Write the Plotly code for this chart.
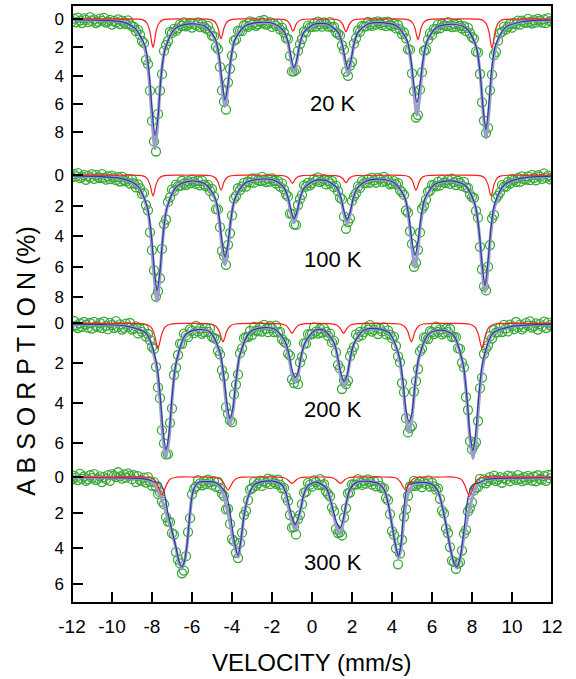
import plotly.graph_objects as go

# Mossbauer spectra of the same sample at four temperatures
# velocity channels (mm/s) shared by all four measured spectra
VELOCITY = [
    -12.0, -11.9, -11.8, -11.7, -11.6, -11.5, -11.4, -11.3, -11.2, -11.1,
    -11.0, -10.9, -10.8, -10.7, -10.6, -10.5, -10.4, -10.3, -10.2, -10.1,
    -10.0, -9.9, -9.8, -9.7, -9.6, -9.5, -9.4, -9.3, -9.2, -9.1,
    -9.0, -8.9, -8.8, -8.7, -8.6, -8.5, -8.4, -8.3, -8.2, -8.1,
    -8.0, -7.9, -7.8, -7.7, -7.6, -7.5, -7.4, -7.3, -7.2, -7.1,
    -7.0, -6.9, -6.8, -6.7, -6.6, -6.5, -6.4, -6.3, -6.2, -6.1,
    -6.0, -5.9, -5.8, -5.7, -5.6, -5.5, -5.4, -5.3, -5.2, -5.1,
    -5.0, -4.9, -4.8, -4.7, -4.6, -4.5, -4.4, -4.3, -4.2, -4.1,
    -4.0, -3.9, -3.8, -3.7, -3.6, -3.5, -3.4, -3.3, -3.2, -3.1,
    -3.0, -2.9, -2.8, -2.7, -2.6, -2.5, -2.4, -2.3, -2.2, -2.1,
    -2.0, -1.9, -1.8, -1.7, -1.6, -1.5, -1.4, -1.3, -1.2, -1.1,
    -1.0, -0.9, -0.8, -0.7, -0.6, -0.5, -0.4, -0.3, -0.2, -0.1,
    0.0, 0.1, 0.2, 0.3, 0.4, 0.5, 0.6, 0.7, 0.8, 0.9,
    1.0, 1.1, 1.2, 1.3, 1.4, 1.5, 1.6, 1.7, 1.8, 1.9,
    2.0, 2.1, 2.2, 2.3, 2.4, 2.5, 2.6, 2.7, 2.8, 2.9,
    3.0, 3.1, 3.2, 3.3, 3.4, 3.5, 3.6, 3.7, 3.8, 3.9,
    4.0, 4.1, 4.2, 4.3, 4.4, 4.5, 4.6, 4.7, 4.8, 4.9,
    5.0, 5.1, 5.2, 5.3, 5.4, 5.5, 5.6, 5.7, 5.8, 5.9,
    6.0, 6.1, 6.2, 6.3, 6.4, 6.5, 6.6, 6.7, 6.8, 6.9,
    7.0, 7.1, 7.2, 7.3, 7.4, 7.5, 7.6, 7.7, 7.8, 7.9,
    8.0, 8.1, 8.2, 8.3, 8.4, 8.5, 8.6, 8.7, 8.8, 8.9,
    9.0, 9.1, 9.2, 9.3, 9.4, 9.5, 9.6, 9.7, 9.8, 9.9,
    10.0, 10.1, 10.2, 10.3, 10.4, 10.5, 10.6, 10.7, 10.8, 10.9,
    11.0, 11.1, 11.2, 11.3, 11.4, 11.5, 11.6, 11.7, 11.8, 11.9,
    12.0,
]

# measured absorption (%)
ABS_20K = [
    0.17, -0.03, 0.23, -0.10, 0.11, 0.28, -0.04, 0.06, 0.22, -0.13,
    0.15, 0.03, 0.28, 0.19, -0.03, 0.13, -0.08, 0.25, 0.18, 0.06,
    0.39, 0.13, 0.25, 0.03, 0.35, 0.11, 0.26, 0.35, 0.10, 0.36,
    0.52, 0.56, 0.86, 0.77, 1.12, 1.55, 1.70, 2.88, 3.18, 5.06,
    7.19, 8.64, 9.35, 6.70, 5.05, 3.89, 2.25, 1.83, 1.55, 0.90,
    0.98, 0.70, 0.84, 0.66, 0.38, 0.48, 0.23, 0.52, 0.43, 0.28,
    0.60, 0.33, 0.45, 0.24, 0.57, 0.35, 0.53, 0.67, 0.49, 0.86,
    1.17, 1.22, 1.95, 2.12, 3.38, 5.04, 5.83, 6.39, 4.47, 3.51,
    2.59, 1.53, 1.43, 0.82, 0.83, 0.86, 0.44, 0.46, 0.55, 0.16,
    0.41, 0.25, 0.48, 0.37, 0.13, 0.28, 0.07, 0.40, 0.34, 0.22,
    0.56, 0.32, 0.48, 0.32, 0.73, 0.61, 0.95, 1.34, 1.40, 2.60,
    3.70, 3.69, 3.59, 2.25, 1.77, 1.41, 0.88, 0.94, 0.46, 0.57,
    0.55, 0.30, 0.53, 0.18, 0.37, 0.54, 0.23, 0.35, 0.53, 0.22,
    0.58, 0.55, 0.94, 1.05, 1.16, 1.85, 2.18, 3.71, 4.01, 3.28,
    3.03, 1.74, 1.36, 0.81, 0.90, 0.49, 0.52, 0.52, 0.20, 0.39,
    0.49, 0.24, 0.40, 0.16, 0.29, 0.43, 0.22, 0.50, 0.18, 0.42,
    0.50, 0.34, 0.66, 0.42, 0.73, 1.06, 0.95, 1.36, 2.14, 2.16,
    3.83, 5.09, 6.95, 6.78, 4.99, 3.75, 2.24, 2.15, 1.46, 1.01,
    1.12, 0.70, 0.71, 0.40, 0.65, 0.35, 0.45, 0.50, 0.22, 0.45,
    0.57, 0.35, 0.54, 0.32, 0.48, 0.67, 0.51, 0.86, 0.63, 1.00,
    1.27, 1.38, 2.30, 2.36, 3.88, 5.88, 7.18, 8.05, 7.68, 5.03,
    3.93, 2.55, 2.32, 1.53, 0.99, 0.90, 0.53, 0.73, 0.55, 0.35,
    0.61, 0.29, 0.37, 0.11, 0.39, 0.11, 0.22, 0.27, -0.01, 0.21,
    0.32, 0.08, 0.24, -0.01, 0.11, 0.25, 0.02, 0.29, -0.06, 0.15,
    0.18,
]
ABS_100K = [
    0.14, -0.08, 0.07, -0.14, 0.19, 0.11, -0.02, 0.30, 0.04, 0.15,
    -0.08, 0.24, -0.02, 0.12, 0.19, -0.07, 0.16, 0.29, 0.07, 0.25,
    0.02, 0.16, 0.31, 0.12, 0.41, 0.09, 0.33, 0.40, 0.24, 0.54,
    0.27, 0.54, 0.80, 0.60, 0.85, 1.22, 1.16, 1.95, 2.30, 3.74,
    4.91, 6.23, 7.95, 7.60, 6.75, 4.83, 3.20, 2.90, 1.75, 1.45,
    0.93, 1.02, 0.61, 0.71, 0.69, 0.36, 0.54, 0.64, 0.38, 0.53,
    0.28, 0.42, 0.56, 0.36, 0.66, 0.35, 0.62, 0.73, 0.63, 1.03,
    0.90, 1.40, 2.22, 2.24, 3.40, 4.95, 5.29, 5.87, 4.56, 3.80,
    2.63, 1.53, 1.36, 0.85, 0.97, 0.74, 0.50, 0.74, 0.41, 0.48,
    0.21, 0.49, 0.21, 0.32, 0.38, 0.10, 0.33, 0.45, 0.23, 0.42,
    0.20, 0.36, 0.54, 0.38, 0.74, 0.53, 0.93, 1.25, 1.39, 2.51,
    2.51, 3.22, 3.25, 1.95, 1.55, 1.29, 0.66, 0.75, 0.50, 0.66,
    0.51, 0.25, 0.37, 0.14, 0.45, 0.37, 0.26, 0.60, 0.36, 0.53,
    0.37, 0.78, 0.68, 1.04, 1.47, 1.57, 2.70, 3.51, 3.07, 2.83,
    1.68, 1.39, 1.18, 0.73, 0.83, 0.39, 0.52, 0.50, 0.26, 0.49,
    0.15, 0.33, 0.49, 0.17, 0.27, 0.43, 0.10, 0.40, 0.30, 0.59,
    0.53, 0.38, 0.60, 0.51, 0.98, 1.11, 1.29, 2.31, 2.45, 3.67,
    4.50, 6.00, 5.73, 4.89, 3.75, 2.21, 2.00, 1.60, 1.07, 1.02,
    0.63, 0.66, 0.72, 0.44, 0.67, 0.30, 0.48, 0.50, 0.30, 0.56,
    0.23, 0.45, 0.64, 0.36, 0.50, 0.70, 0.43, 0.81, 0.82, 1.25,
    1.43, 1.48, 2.34, 2.78, 4.69, 6.16, 7.28, 7.55, 5.99, 4.57,
    2.84, 2.60, 1.51, 1.33, 1.12, 0.65, 0.74, 0.75, 0.43, 0.54,
    0.24, 0.33, 0.43, 0.18, 0.43, 0.07, 0.26, 0.28, 0.07, 0.32,
    -0.02, 0.17, 0.33, 0.00, 0.09, 0.24, -0.12, 0.16, 0.02, 0.27,
    0.16,
]
ABS_200K = [
    0.15, -0.12, 0.11, 0.23, 0.00, 0.17, -0.07, 0.06, 0.21, -0.02,
    0.26, -0.08, 0.14, 0.18, -0.02, 0.24, -0.09, 0.12, 0.29, -0.03,
    0.08, 0.23, -0.11, 0.18, 0.05, 0.31, 0.22, 0.01, 0.17, -0.02,
    0.31, 0.26, 0.15, 0.50, 0.27, 0.42, 0.27, 0.66, 0.53, 0.84,
    1.17, 1.27, 2.17, 3.20, 3.74, 5.34, 6.00, 6.55, 6.54, 4.97,
    4.25, 2.58, 2.21, 1.58, 1.01, 1.02, 0.51, 0.60, 0.69, 0.30,
    0.37, 0.49, 0.12, 0.40, 0.26, 0.52, 0.43, 0.23, 0.42, 0.26,
    0.67, 0.72, 0.78, 1.37, 1.55, 2.34, 2.63, 4.19, 4.52, 4.85,
    4.94, 3.55, 3.06, 2.55, 1.49, 1.25, 0.74, 0.67, 0.68, 0.38,
    0.58, 0.18, 0.36, 0.38, 0.16, 0.41, 0.07, 0.27, 0.44, 0.13,
    0.25, 0.43, 0.11, 0.45, 0.42, 0.79, 0.91, 0.99, 1.51, 1.61,
    2.80, 2.98, 2.73, 3.04, 1.95, 1.67, 0.99, 1.01, 0.54, 0.56,
    0.53, 0.20, 0.41, 0.51, 0.27, 0.46, 0.24, 0.41, 0.62, 0.51,
    0.95, 0.87, 1.45, 2.07, 2.25, 3.28, 2.84, 3.04, 2.86, 1.64,
    1.39, 1.17, 0.55, 0.67, 0.42, 0.59, 0.44, 0.19, 0.31, 0.09,
    0.41, 0.32, 0.20, 0.53, 0.26, 0.40, 0.20, 0.55, 0.35, 0.56,
    0.74, 0.66, 1.13, 1.65, 1.95, 2.98, 3.44, 4.74, 5.45, 5.22,
    5.12, 3.41, 2.89, 2.28, 1.40, 1.26, 0.70, 0.72, 0.78, 0.39,
    0.43, 0.53, 0.16, 0.43, 0.30, 0.55, 0.46, 0.26, 0.44, 0.28,
    0.68, 0.67, 0.69, 1.24, 1.27, 1.96, 2.20, 3.68, 4.33, 5.89,
    6.30, 6.10, 5.94, 4.88, 3.24, 2.71, 1.53, 1.26, 1.10, 0.64,
    0.76, 0.34, 0.46, 0.44, 0.20, 0.43, 0.07, 0.25, 0.40, 0.06,
    0.15, 0.29, -0.07, 0.20, 0.06, 0.30, 0.20, -0.03, 0.11, -0.10,
    0.21, 0.13, 0.00, 0.31, 0.04, 0.15, -0.09, 0.23, -0.04, 0.09,
    0.16,
]
ABS_300K = [
    0.14, -0.08, 0.02, 0.17, -0.18, 0.10, -0.03, 0.22, 0.13, -0.10,
    0.06, -0.16, 0.17, 0.09, -0.04, 0.28, 0.01, 0.12, -0.11, 0.21,
    -0.16, -0.08, 0.00, -0.27, -0.04, 0.09, -0.15, 0.03, -0.21, -0.08,
    0.12, -0.10, 0.28, -0.05, 0.17, 0.22, 0.03, 0.31, 0.01, 0.25,
    0.49, 0.28, 0.55, 0.95, 0.85, 1.38, 1.52, 2.25, 2.50, 2.52,
    3.15, 3.23, 4.21, 4.64, 4.85, 5.40, 5.25, 4.44, 3.09, 2.31,
    0.97, 0.66, 0.53, 0.17, 0.36, 0.46, 0.22, 0.39, 0.15, 0.29,
    0.44, 0.24, 0.55, 0.27, 0.63, 0.92, 1.07, 1.82, 1.78, 2.63,
    3.48, 3.60, 4.25, 4.55, 3.70, 3.12, 2.13, 1.90, 1.30, 0.70,
    0.63, 0.27, 0.50, 0.36, 0.20, 0.50, 0.22, 0.32, 0.09, 0.40,
    0.15, 0.29, 0.38, 0.15, 0.43, 0.64, 0.61, 1.13, 1.34, 2.13,
    2.84, 2.81, 3.22, 2.36, 2.12, 1.52, 0.87, 0.83, 0.33, 0.43,
    0.54, 0.19, 0.28, 0.44, 0.12, 0.46, 0.40, 0.80, 0.95, 1.08,
    1.70, 1.93, 2.91, 3.14, 3.10, 3.28, 2.27, 1.74, 0.91, 0.87,
    0.41, 0.42, 0.43, 0.12, 0.33, 0.44, 0.20, 0.37, 0.13, 0.27,
    0.42, 0.22, 0.52, 0.22, 0.50, 0.62, 0.62, 1.18, 1.30, 2.08,
    3.03, 3.25, 4.00, 4.90, 4.30, 3.52, 2.23, 1.80, 1.05, 0.53,
    0.51, 0.22, 0.49, 0.39, 0.25, 0.57, 0.29, 0.40, 0.19, 0.53,
    0.32, 0.52, 0.71, 0.64, 1.22, 1.89, 2.04, 2.90, 3.14, 3.93,
    4.69, 4.76, 5.15, 4.86, 4.77, 4.13, 3.18, 2.97, 1.93, 1.73,
    1.42, 0.75, 0.60, 0.57, 0.10, 0.30, 0.13, 0.35, 0.23, 0.00,
    0.14, -0.08, 0.23, 0.14, 0.01, 0.32, 0.05, 0.15, -0.08, 0.23,
    -0.04, 0.09, 0.16, -0.11, 0.11, 0.23, 0.00, 0.17, -0.07, 0.06,
    0.20, -0.03, 0.24, -0.10, 0.11, 0.15, -0.05, 0.21, -0.12, 0.08,
    -0.15,
]

# fitted curves: total fit and main sextet, read at these velocities
FIT_V_20K = [-12.0, -10.5, -9.5, -8.85, -8.35, -8.15, -8.0, -7.85, -7.7, -7.55, -7.35, -6.85, -6.1,
             -5.35, -4.85, -4.65, -4.5, -4.35, -4.2, -4.05, -3.85, -3.35, -2.6, -1.9, -1.4, -1.2,
             -1.05, -0.9, -0.75, -0.6, -0.4, 0.1, 0.45, 0.8, 1.3, 1.5, 1.65, 1.8, 1.95, 2.1, 2.3,
             2.8, 3.5, 4.25, 4.75, 4.95, 5.1, 5.25, 5.4, 5.55, 5.75, 6.25, 7.0, 7.7, 8.2, 8.4,
             8.55, 8.7, 8.85, 9.0, 9.2, 9.7, 10.5, 12.0]
FIT_TOTAL_20K = [0.05, 0.10, 0.20, 0.67, 2.11, 4.12, 7.00, 9.15, 7.00, 4.12, 2.15, 0.69, 0.35,
                 0.52, 1.45, 2.79, 4.72, 6.16, 4.73, 2.80, 1.45, 0.50, 0.25, 0.34, 0.91, 1.72,
                 2.90, 3.77, 2.90, 1.73, 0.94, 0.38, 0.32, 0.38, 0.95, 1.79, 2.99, 3.89, 2.99, 1.78, 0.95,
                 0.36, 0.27, 0.52, 1.58, 3.07, 5.19, 6.78, 5.23, 3.09, 1.61, 0.58, 0.38, 0.65, 1.94, 3.78,
                 6.43, 8.39, 6.42, 3.77, 1.92, 0.59, 0.20, 0.06]
FIT_MAIN_20K = [0.05, 0.10, 0.20, 0.66, 1.90, 3.70, 6.30, 8.20, 6.90, 4.10, 2.15, 0.68, 0.34,
                0.51, 1.35, 2.55, 4.35, 5.70, 4.60, 2.78, 1.45, 0.49, 0.24, 0.33, 0.88, 1.60,
                2.65, 3.45, 2.80, 1.70, 0.93, 0.37, 0.31, 0.37, 0.93, 1.70, 2.75, 3.55, 2.90, 1.75, 0.94,
                0.35, 0.26, 0.51, 1.50, 2.90, 4.70, 5.90, 4.60, 2.90, 1.55, 0.57, 0.37, 0.64, 1.90, 3.70,
                6.20, 7.80, 5.90, 3.30, 1.75, 0.57, 0.19, 0.06]

FIT_V_100K = [-12.0, -10.5, -9.5, -8.75, -8.25, -8.05, -7.9, -7.75, -7.6, -7.45, -7.25, -6.75, -6.05,
              -5.35, -4.85, -4.65, -4.5, -4.35, -4.2, -4.05, -3.85, -3.35, -2.6, -1.9, -1.4, -1.2,
              -1.05, -0.9, -0.75, -0.6, -0.4, 0.1, 0.45, 0.75, 1.25, 1.45, 1.6, 1.75, 1.9, 2.05, 2.25,
              2.75, 3.45, 4.15, 4.65, 4.85, 5.0, 5.15, 5.3, 5.45, 5.65, 6.15, 6.9, 7.65, 8.15, 8.35,
              8.5, 8.65, 8.8, 8.95, 9.15, 9.65, 10.5, 12.0]
FIT_TOTAL_100K = [0.04, 0.09, 0.22, 0.67, 2.10, 4.00, 6.51, 8.25, 6.52, 4.02, 2.14, 0.72, 0.39,
                  0.57, 1.54, 2.87, 4.65, 5.86, 4.66, 2.87, 1.54, 0.53, 0.27, 0.34, 0.85, 1.55,
                  2.48, 3.12, 2.49, 1.55, 0.86, 0.37, 0.31, 0.37, 0.85, 1.57, 2.54, 3.19, 2.57, 1.61, 0.89,
                  0.37, 0.27, 0.53, 1.55, 2.93, 4.78, 6.03, 4.81, 2.99, 1.61, 0.60, 0.38, 0.66, 1.97, 3.72,
                  6.04, 7.64, 6.03, 3.70, 1.95, 0.61, 0.20, 0.06]
FIT_MAIN_100K = [0.04, 0.09, 0.22, 0.66, 2.00, 3.70, 5.90, 7.55, 6.25, 3.95, 2.12, 0.71, 0.38,
                 0.56, 1.45, 2.65, 4.30, 5.35, 4.45, 2.82, 1.52, 0.52, 0.26, 0.33, 0.82, 1.45,
                 2.28, 2.85, 2.38, 1.52, 0.85, 0.36, 0.30, 0.36, 0.83, 1.50, 2.35, 2.92, 2.45, 1.58, 0.88,
                 0.36, 0.26, 0.52, 1.50, 2.78, 4.30, 5.25, 4.30, 2.75, 1.52, 0.58, 0.37, 0.65, 1.92, 3.60,
                 5.75, 7.20, 5.60, 3.40, 1.80, 0.59, 0.19, 0.06]

FIT_V_200K = [-12.0, -10.5, -9.3, -8.3, -7.8, -7.6, -7.45, -7.3, -7.15, -7.0, -6.8, -6.3, -5.7,
              -5.1, -4.6, -4.4, -4.25, -4.1, -3.95, -3.8, -3.6, -3.1, -2.4, -1.85, -1.35, -1.15,
              -1.0, -0.85, -0.7, -0.55, -0.35, 0.15, 0.6, 1.1, 1.3, 1.45, 1.6, 1.75, 1.9, 2.1, 2.6,
              3.2, 3.85, 4.35, 4.55, 4.7, 4.85, 5.0, 5.15, 5.35, 5.85, 6.45, 7.05, 7.55, 7.75, 7.9,
              8.05, 8.2, 8.35, 8.55, 9.05, 10.0, 12.0]
FIT_TOTAL_200K = [0.04, 0.06, 0.13, 0.49, 2.03, 3.82, 5.75, 6.69, 5.76, 3.83, 2.05, 0.55, 0.32,
                  0.44, 1.57, 2.91, 4.35, 5.07, 4.37, 2.92, 1.57, 0.44, 0.22, 0.30, 0.99, 1.72,
                  2.52, 2.92, 2.54, 1.71, 0.99, 0.35, 0.35, 1.00, 1.83, 2.70, 3.14, 2.72, 1.84, 1.02, 0.34,
                  0.27, 0.47, 1.70, 3.15, 4.70, 5.45, 4.70, 3.16, 1.72, 0.52, 0.35, 0.57, 2.08, 3.88, 5.81,
                  6.75, 5.80, 3.86, 2.05, 0.50, 0.15, 0.05]
FIT_MAIN_200K = [0.04, 0.06, 0.13, 0.48, 1.85, 3.50, 5.30, 6.30, 5.50, 3.70, 2.00, 0.54, 0.31,
                 0.43, 1.45, 2.70, 4.00, 4.75, 4.20, 2.85, 1.55, 0.43, 0.21, 0.29, 0.88, 1.55,
                 2.30, 2.70, 2.45, 1.65, 0.97, 0.34, 0.34, 0.97, 1.75, 2.50, 2.90, 2.60, 1.80, 1.00, 0.33,
                 0.26, 0.46, 1.60, 2.90, 4.30, 4.90, 4.45, 3.05, 1.68, 0.51, 0.34, 0.56, 2.00, 3.75, 5.50,
                 6.35, 5.30, 3.50, 1.85, 0.48, 0.15, 0.05]

FIT_V_300K = [-12.0, -10.5, -9.0, -8.3, -8.0, -7.8, -7.6, -7.4, -7.2, -7.0, -6.8, -6.65, -6.5,
              -6.38, -6.25, -6.1, -5.95, -5.7, -5.2, -4.8, -4.5, -4.3, -4.1, -3.9, -3.7, -3.55,
              -3.4, -3.2, -2.9, -2.4, -1.8, -1.5, -1.3, -1.1, -0.85, -0.6, -0.4, -0.2, 0.2, 0.7,
              0.9, 1.1, 1.25, 1.4, 1.55, 1.7, 1.9, 2.2, 2.8, 3.3, 3.6, 3.8, 4.0, 4.2, 4.33, 4.45,
              4.6, 4.8, 5.1, 5.6, 6.0, 6.3, 6.6, 6.9, 7.1, 7.25, 7.4, 7.6, 7.8, 8.0, 8.3, 8.7, 9.5, 12.0]
FIT_TOTAL_300K = [0.02, 0.03, 0.06, 0.13, 0.27, 0.55, 1.05, 1.60, 2.35, 3.10,
                  4.00, 4.78, 5.15, 4.78, 3.85, 2.05, 0.82, 0.33, 0.26, 0.34,
                  0.80, 1.55, 2.55, 3.75, 4.50, 3.55, 2.20, 1.15, 0.45, 0.24,
                  0.27, 0.45, 1.00, 2.10, 2.95, 2.00, 0.95, 0.48, 0.28, 0.60,
                  1.20, 2.20, 2.90, 3.20, 2.62, 1.60, 0.70, 0.32, 0.24, 0.35,
                  0.70, 1.45, 2.70, 4.00, 4.55, 4.00, 2.30, 0.95, 0.40, 0.31,
                  0.41, 0.80, 2.10, 3.90, 4.85, 5.10, 4.65, 3.30, 2.15, 1.20,
                  0.42, 0.15, 0.07, 0.03]
FIT_MAIN_300K = [0.02, 0.03, 0.06, 0.12, 0.22, 0.30, 0.30, 0.85, 2.05, 3.00,
                 3.95, 4.72, 5.05, 4.72, 3.80, 2.02, 0.80, 0.32, 0.26, 0.32,
                 0.60, 0.95, 1.95, 3.50, 4.40, 3.50, 2.18, 1.14, 0.44, 0.24,
                 0.27, 0.44, 0.90, 1.80, 2.68, 1.95, 0.94, 0.48, 0.28, 0.60,
                 1.18, 2.05, 2.60, 2.85, 2.42, 1.52, 0.68, 0.31, 0.24, 0.35,
                 0.70, 1.45, 2.70, 3.95, 4.45, 3.75, 1.66, 0.47, 0.34, 0.30,
                 0.41, 0.80, 2.10, 3.90, 4.83, 5.05, 4.55, 2.97, 1.16, 0.50,
                 0.34, 0.14, 0.07, 0.03]

# minor sextet (red)
SUB_V_20K = [-12.0, -10.0, -8.45, -8.25, -8.10, -8.02, -7.95, -7.88, -7.80, -7.65, -7.45, -6.25,
             -5.05, -4.85, -4.70, -4.62, -4.55, -4.48, -4.40, -4.25, -4.05, -2.75,
             -1.45, -1.25, -1.10, -1.02, -0.95, -0.88, -0.80, -0.65, -0.45, 0.40,
             1.20, 1.40, 1.55, 1.63, 1.70, 1.77, 1.85, 2.00, 2.20, 3.50,
             4.80, 5.00, 5.15, 5.23, 5.30, 5.37, 5.45, 5.60, 5.80, 7.15,
             8.50, 8.70, 8.85, 8.93, 9.00, 9.07, 9.15, 9.30, 9.50, 10.50, 12.0]
SUB_20K = [0, 0, 0.06, 0.30, 0.90, 1.60, 2.00, 1.60, 0.90, 0.30, 0.06, 0,
           0.04, 0.21, 0.63, 1.12, 1.40, 1.12, 0.63, 0.21, 0.04, 0,
           0.03, 0.13, 0.38, 0.68, 0.85, 0.68, 0.38, 0.13, 0.03, 0,
           0.03, 0.14, 0.41, 0.72, 0.90, 0.72, 0.41, 0.14, 0.03, 0,
           0.04, 0.22, 0.65, 1.16, 1.45, 1.16, 0.65, 0.22, 0.04, 0,
           0.06, 0.31, 0.92, 1.64, 2.05, 1.64, 0.92, 0.31, 0.06, 0, 0]

SUB_V_100K = [-12.0, -10.0, -8.45, -8.25, -8.10, -8.02, -7.95, -7.88, -7.80, -7.65, -7.45, -6.25,
              -5.05, -4.85, -4.70, -4.62, -4.55, -4.48, -4.40, -4.25, -4.05, -2.75,
              -1.48, -1.28, -1.13, -1.05, -0.98, -0.91, -0.83, -0.68, -0.48, 0.35,
              1.20, 1.40, 1.55, 1.63, 1.70, 1.77, 1.85, 2.00, 2.20, 3.45,
              4.70, 4.90, 5.05, 5.13, 5.20, 5.27, 5.35, 5.50, 5.70, 7.10,
              8.45, 8.65, 8.80, 8.88, 8.95, 9.02, 9.10, 9.25, 9.45, 10.50, 12.0]
SUB_100K = [0, 0, 0.04, 0.20, 0.61, 1.09, 1.36, 1.09, 0.61, 0.20, 0.04, 0,
            0.03, 0.15, 0.44, 0.78, 0.97, 0.78, 0.44, 0.15, 0.03, 0,
            0.02, 0.08, 0.24, 0.42, 0.53, 0.42, 0.24, 0.08, 0.02, 0,
            0.02, 0.08, 0.23, 0.40, 0.50, 0.40, 0.23, 0.08, 0.02, 0,
            0.03, 0.15, 0.45, 0.80, 1.00, 0.80, 0.45, 0.15, 0.03, 0,
            0.04, 0.20, 0.61, 1.09, 1.36, 1.09, 0.61, 0.20, 0.04, 0, 0]

SUB_V_200K = [-12.0, -10.0, -8.30, -8.05, -7.88, -7.78, -7.70, -7.62, -7.52, -7.35, -7.10, -6.10,
              -5.05, -4.80, -4.63, -4.53, -4.45, -4.37, -4.27, -4.10, -3.85, -2.70,
              -1.60, -1.35, -1.18, -1.08, -1.00, -0.92, -0.82, -0.65, -0.40, 0.30,
              0.98, 1.23, 1.40, 1.50, 1.58, 1.66, 1.76, 1.93, 2.18, 3.30,
              4.37, 4.62, 4.79, 4.89, 4.97, 5.05, 5.15, 5.32, 5.57, 6.70,
              7.90, 8.15, 8.32, 8.42, 8.50, 8.58, 8.68, 8.85, 9.10, 10.50, 12.0]
SUB_200K = [0, 0, 0.04, 0.19, 0.56, 1.00, 1.25, 1.00, 0.56, 0.19, 0.04, 0,
            0.03, 0.14, 0.41, 0.74, 0.92, 0.74, 0.41, 0.14, 0.03, 0,
            0.02, 0.08, 0.23, 0.40, 0.50, 0.40, 0.23, 0.08, 0.02, 0,
            0.02, 0.08, 0.23, 0.40, 0.50, 0.40, 0.23, 0.08, 0.02, 0,
            0.03, 0.14, 0.41, 0.74, 0.92, 0.74, 0.41, 0.14, 0.03, 0,
            0.04, 0.19, 0.56, 1.00, 1.25, 1.00, 0.56, 0.19, 0.04, 0, 0]

SUB_V_300K = [-12.0, -10.0, -8.20, -7.90, -7.75, -7.62, -7.50, -7.38, -7.25, -7.10, -6.80, -5.85,
              -4.90, -4.60, -4.45, -4.32, -4.20, -4.08, -3.95, -3.80, -3.50, -2.60,
              -1.70, -1.40, -1.25, -1.12, -1.00, -0.88, -0.75, -0.60, -0.30, 0.20,
              0.72, 1.02, 1.17, 1.30, 1.42, 1.54, 1.67, 1.82, 2.12, 3.00,
              3.97, 4.27, 4.42, 4.55, 4.67, 4.79, 4.92, 5.07, 5.37, 6.30,
              7.17, 7.47, 7.62, 7.75, 7.87, 7.99, 8.12, 8.27, 8.57, 10.0, 12.0]
SUB_300K = [0, 0, 0.01, 0.12, 0.37, 0.72, 1.00, 0.72, 0.37, 0.12, 0.01, 0,
            0.01, 0.09, 0.27, 0.53, 0.73, 0.53, 0.27, 0.09, 0.01, 0,
            0, 0.04, 0.13, 0.26, 0.36, 0.26, 0.13, 0.04, 0, 0,
            0, 0.04, 0.13, 0.26, 0.36, 0.26, 0.13, 0.04, 0, 0,
            0.01, 0.09, 0.27, 0.53, 0.73, 0.53, 0.27, 0.09, 0.01, 0,
            0.01, 0.13, 0.41, 0.79, 1.10, 0.79, 0.41, 0.13, 0.01, 0, 0]

TEMPERATURES = ["20 K", "100 K", "200 K", "300 K"]
X_TICKS = [-12, -10, -8, -6, -4, -2, 0, 2, 4, 6, 8, 10, 12]
X_TICK_TEXT = ["-12", "-10", "-8", "-6", "-4", "-2", "0", "2", "4", "6", "8", "10", "12"]

spectra = [
    (ABS_20K, FIT_V_20K, FIT_TOTAL_20K, FIT_MAIN_20K, SUB_V_20K, SUB_20K),
    (ABS_100K, FIT_V_100K, FIT_TOTAL_100K, FIT_MAIN_100K, SUB_V_100K, SUB_100K),
    (ABS_200K, FIT_V_200K, FIT_TOTAL_200K, FIT_MAIN_200K, SUB_V_200K, SUB_200K),
    (ABS_300K, FIT_V_300K, FIT_TOTAL_300K, FIT_MAIN_300K, SUB_V_300K, SUB_300K),
]

# stacked panels, each with its own inverted absorption scale
domains = [[0.7408, 1.0], [0.4933, 0.7408], [0.2291, 0.4933], [0.0, 0.2291]]
ranges = [[9.95, -0.99], [8.7, -1.0], [7.13, -0.77], [7.07, -0.62]]
y_ticks = [[0, 2, 4, 6, 8], [0, 2, 4, 6, 8], [0, 2, 4, 6], [0, 2, 4, 6]]
label_y = [5.93, 5.49, 4.33, 4.77]

FONT = "Liberation Sans, Arial, sans-serif"
GREEN = "#3aa83a"
GRAY = "#9d9ec8"
BLUE = "#2a3c9e"
RED = "#ff1c1c"

fig = go.Figure()
for k, (absn, fv, ftot, fmain, sv, sub) in enumerate(spectra):
    ya = "y" if k == 0 else "y%d" % (k + 1)
    fig.add_trace(go.Scatter(
        x=VELOCITY, y=absn, mode="markers", xaxis="x", yaxis=ya,
        marker=dict(symbol="circle-open", size=9, color=GREEN, line=dict(width=1.3)),
        showlegend=False, hoverinfo="skip"))
    fig.add_trace(go.Scatter(
        x=fv, y=ftot, mode="lines", xaxis="x", yaxis=ya,
        line=dict(color=GRAY, width=3.2, shape="spline", smoothing=0.8),
        showlegend=False, hoverinfo="skip"))
    fig.add_trace(go.Scatter(
        x=fv, y=fmain, mode="lines", xaxis="x", yaxis=ya,
        line=dict(color=BLUE, width=1.2, shape="spline", smoothing=0.8),
        showlegend=False, hoverinfo="skip"))
    fig.add_trace(go.Scatter(
        x=sv, y=sub, mode="lines", xaxis="x", yaxis=ya,
        line=dict(color=RED, width=1.2, shape="spline", smoothing=0.8),
        showlegend=False, hoverinfo="skip"))

    fig.update_layout({("yaxis" if k == 0 else "yaxis%d" % (k + 1)): dict(
        domain=domains[k], range=ranges[k], anchor="x",
        tickmode="array", tickvals=y_ticks[k],
        ticks="inside", ticklen=11, tickwidth=2, tickcolor="black",
        ticklabelstandoff=7,
        tickfont=dict(family=FONT, size=17, color="black"),
        showgrid=False, zeroline=False, showline=False,
    )})
    fig.add_annotation(x=1.05, y=label_y[k], xref="x", yref=ya, text=TEMPERATURES[k],
                       showarrow=False, font=dict(family=FONT, size=22, color="black"))

fig.update_layout(
    width=576, height=679,
    margin=dict(l=72, r=24, t=5, b=76),
    plot_bgcolor="white", paper_bgcolor="white",
    xaxis=dict(
        range=[-12, 12], anchor="y4",
        tickmode="array", tickvals=X_TICKS, ticktext=X_TICK_TEXT,
        ticks="inside", ticklen=11, tickwidth=2, tickcolor="black",
        ticklabelstandoff=10,
        tickfont=dict(family=FONT, size=19, color="black"),
        showgrid=False, zeroline=False, showline=False,
    ),
)
fig.add_shape(type="rect", xref="paper", yref="paper", x0=0, x1=1, y0=0, y1=1,
              line=dict(color="black", width=2), layer="above")
fig.add_annotation(text="VELOCITY (mm/s)", xref="paper", yref="paper", x=0.5, y=-0.1,
                   yanchor="middle", showarrow=False,
                   font=dict(family=FONT, size=24, color="black"))
fig.add_annotation(text="A B S O R P T I O N (%)", xref="paper", yref="paper",
                   x=-0.096, y=0.405, textangle=-90, xanchor="center", yanchor="middle",
                   showarrow=False, font=dict(family=FONT, size=25, color="black"))

fig.write_html("out.html", config={"displayModeBar": False},
               post_script="document.body.style.margin='0';")
